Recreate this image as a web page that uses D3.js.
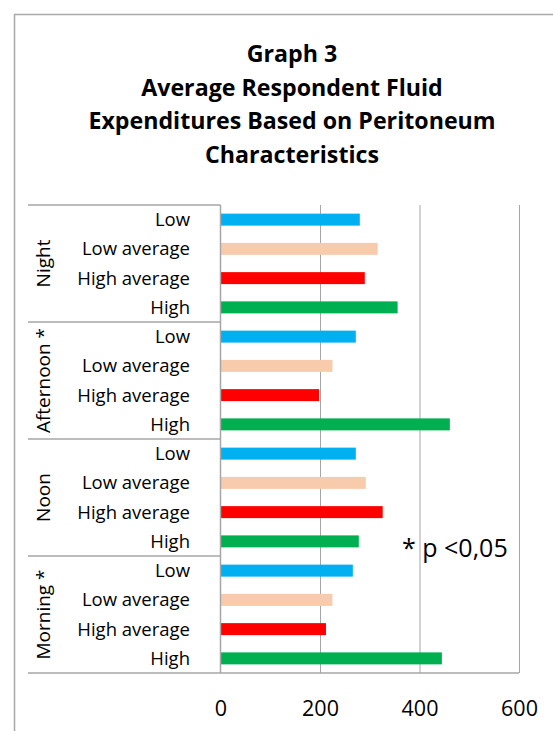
<!DOCTYPE html>
<html>
<head>
<meta charset="utf-8">
<script src="https://cdn.jsdelivr.net/npm/d3@7"></script>
<style>
  body { margin: 0; background: #fff; }
  svg { display: block; font-family: "Open Sans", Lato, sans-serif; }
</style>
</head>
<body>
<svg id="chart"></svg>
<script>
const width = 553;
const height = 731;

const titleLines = ['Graph 3', 'Average Respondent Fluid', 'Expenditures Based on Peritoneum', 'Characteristics'];
const groups = ['Night', 'Afternoon *', 'Noon', 'Morning *'];
const levels = ['Low', 'Low average', 'High average', 'High'];
const colors = ['#00b0f0', '#f8cbad', '#ff0000', '#00b050'];

// values per group, in the order of levels
const night = [280, 316, 290, 356];
const afternoon = [272, 225, 198, 461];
const noon = [272, 292, 326, 278];
const morning = [266, 225, 212, 445];
const xTicks = [0, 200, 400, 600];

const values = [night, afternoon, noon, morning];

const rows = [];
groups.forEach((g, gi) => {
    levels.forEach((l, li) => {
        rows.push({group: g, level: l, key: g + '|' + l, value: values[gi][li], color: colors[li]});
    });
});

const plotLeft = 220.5, plotRight = 519, plotTop = 205, plotBottom = 673;
const labelLeft = 28;
const gridColor = '#a6a6a6';

const svg = d3.select('#chart')
    .attr('width', width)
    .attr('height', height);

// outer frame
svg.append('path')
    .attr('d', `M14.5,${height} V14.5 H${width}`)
    .attr('fill', 'none')
    .attr('stroke', '#a9a9a9')
    .attr('stroke-width', 1.5);

// title
svg.append('g').selectAll('text').data(titleLines)
    .enter().append('text')
    .attr('x', 292)
    .attr('y', (d, i) => 62 + i * 33.5)
    .attr('text-anchor', 'middle')
    .style('font-weight', 'bold')
    .style('font-size', '23.2px')
    .text(d => d);

const x = d3.scaleLinear().domain([0, 600]).range([plotLeft, plotRight]);
const y = d3.scaleBand().domain(rows.map(d => d.key)).range([plotTop, plotBottom])
    .paddingInner(0.59).paddingOuter(0.295);
const yGroup = d3.scaleBand().domain(groups).range([plotTop, plotBottom]);

// gridlines
const grid = svg.append('g').attr('transform', `translate(0, ${plotBottom})`)
    .call(d3.axisBottom(x).tickValues(xTicks.slice(1)).tickSize(-(plotBottom - plotTop)).tickFormat(''));
grid.select('.domain').remove();
grid.selectAll('line').attr('stroke', gridColor).attr('stroke-width', 1);

// bars
svg.append('g').selectAll('rect').data(rows)
    .enter().append('rect')
    .attr('x', x(0))
    .attr('y', d => y(d.key))
    .attr('width', d => x(d.value) - x(0))
    .attr('height', y.bandwidth())
    .attr('fill', d => d.color);

// category axis lines
const axisLines = svg.append('g').attr('stroke', gridColor).attr('fill', 'none');
axisLines.append('line')
    .attr('x1', x(0)).attr('x2', x(0))
    .attr('y1', plotTop).attr('y2', plotBottom)
    .attr('stroke-width', 1.5);
axisLines.selectAll('.sep').data(groups.concat(['end']))
    .enter().append('line')
    .attr('class', 'sep')
    .attr('x1', labelLeft)
    .attr('x2', d => d === 'end' ? plotRight : x(0))
    .attr('y1', d => d === 'end' ? plotBottom : yGroup(d))
    .attr('y2', d => d === 'end' ? plotBottom : yGroup(d))
    .attr('stroke-width', 1.5);

// level labels
svg.append('g').selectAll('text').data(rows)
    .enter().append('text')
    .attr('x', 190)
    .attr('y', d => y(d.key) + y.bandwidth() / 2)
    .attr('dy', '0.35em')
    .attr('text-anchor', 'end')
    .style('font-size', '18.5px')
    .text(d => d.level);

// group labels
svg.append('g').selectAll('text').data(groups)
    .enter().append('text')
    .attr('transform', d => `translate(43, ${yGroup(d) + yGroup.bandwidth() / 2}) rotate(-90)`)
    .attr('dy', '0.35em')
    .attr('text-anchor', 'middle')
    .style('font-size', '19px')
    .text(d => d);

// value axis
const xAxis = svg.append('g').attr('transform', `translate(0, ${plotBottom})`)
    .call(d3.axisBottom(x).tickValues(xTicks).tickSize(0).tickPadding(28));
xAxis.select('.domain').remove();
xAxis.selectAll('text')
    .attr('fill', '#000')
    .style('font-family', '"Open Sans", Lato, sans-serif')
    .style('font-size', '21.5px');

// significance note
svg.append('text')
    .attr('x', 402)
    .attr('y', 557)
    .style('font-size', '25px')
    .text('* p <0,05');
</script>
</body>
</html>
